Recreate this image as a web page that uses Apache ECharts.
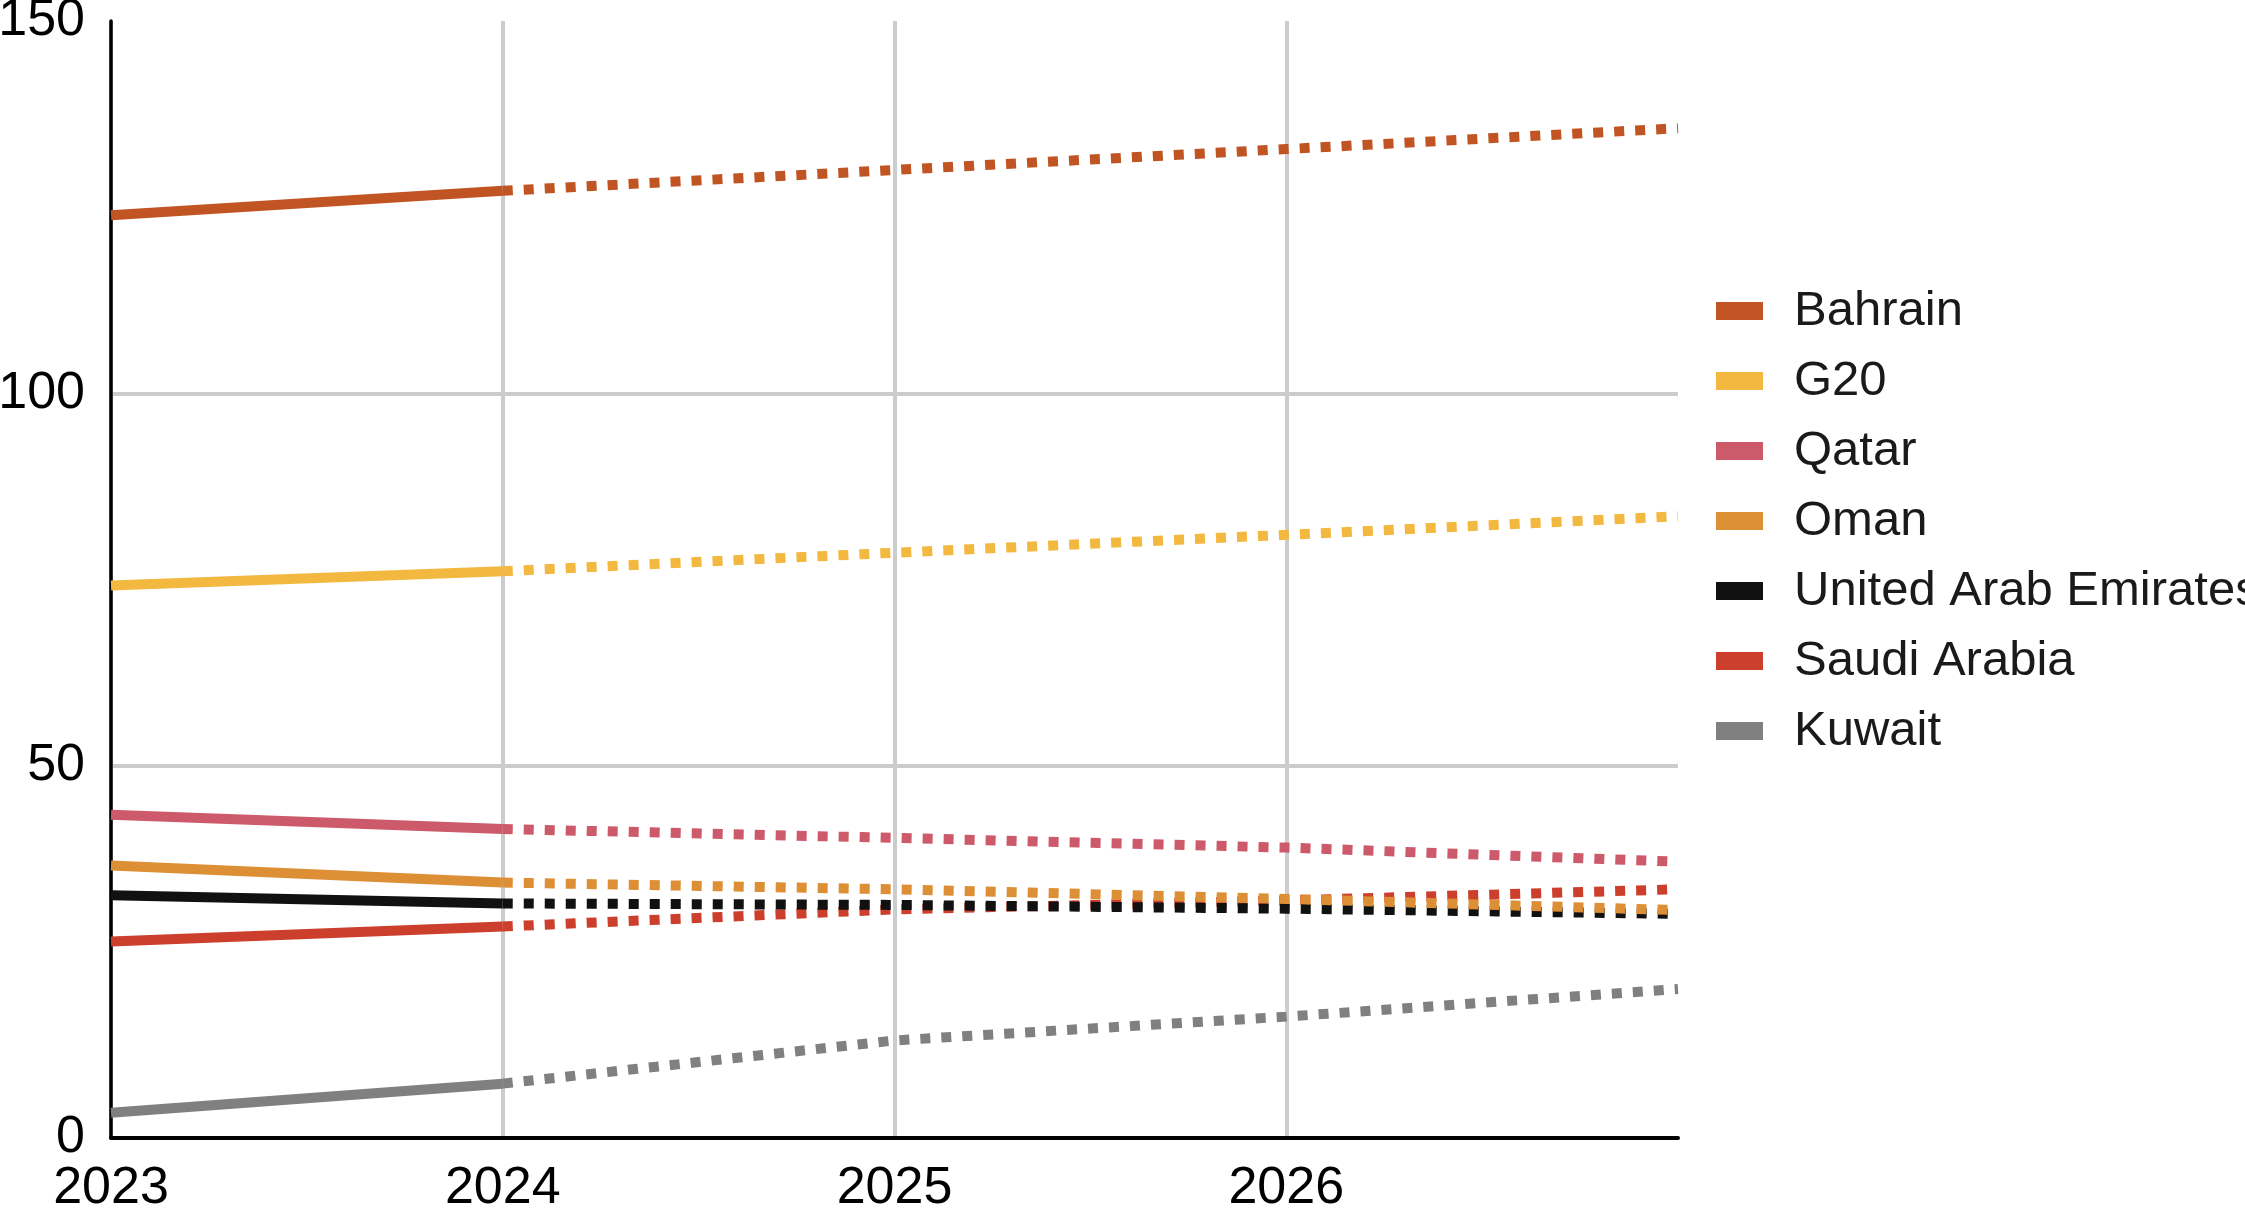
<!DOCTYPE html>
<html>
<head>
<meta charset="utf-8">
<script src="https://cdn.jsdelivr.net/npm/echarts@6/dist/echarts.min.js"></script>
<style>html,body{margin:0;padding:0;background:#fff;}#c{width:2245px;height:1209px;}</style>
</head>
<body>
<div id="c"></div>
<script>
const years = [2023, 2024, 2025, 2026, 2027];
const lastActualIndex = 1; // 2024 is the last actual year; later points are projections
const countries = ['Bahrain', 'G20', 'Qatar', 'Oman', 'United Arab Emirates', 'Saudi Arabia', 'Kuwait'];
const bahrain = [123.9, 127.2, 130.0, 132.8, 135.6];
const g20 = [74.2, 76.1, 78.6, 81.0, 83.5];
const qatar = [43.4, 41.5, 40.3, 39.0, 37.1];
const oman = [36.6, 34.3, 33.4, 32.1, 30.6];
const uae = [32.6, 31.5, 31.3, 30.8, 30.1];
const saudiArabia = [26.4, 28.4, 30.7, 31.9, 33.4];
const kuwait = [3.4, 7.3, 13.1, 16.3, 20.0];
const yTicks = [0, 50, 100, 150];

const valuesByCountry = [bahrain, g20, qatar, oman, uae, saudiArabia, kuwait];
const colors = ['#c05523', '#f3b840', '#cc5a6a', '#dd8f35', '#111111', '#cc3f2c', '#808080'];

const series = [];
for (let i = countries.length - 1; i >= 0; i--) {
  const vals = valuesByCountry[i];
  const actual = years.slice(0, lastActualIndex + 1).map((y, k) => [y, vals[k]]);
  const proj = years.slice(lastActualIndex).map((y, k) => [y, vals[k + lastActualIndex]]);
  series.push({
    name: countries[i], type: 'line', data: actual, showSymbol: false, symbol: 'none',
    lineStyle: { color: colors[i], width: 10, type: 'solid', cap: 'butt' },
    itemStyle: { color: colors[i] }, silent: true
  });
  series.push({
    name: countries[i], type: 'line', data: proj, showSymbol: false, symbol: 'none',
    lineStyle: { color: colors[i], width: 10, type: [10, 11], cap: 'butt' },
    itemStyle: { color: colors[i] }, silent: true
  });
}

const font = '"Liberation Sans", Arial, sans-serif';
const chart = echarts.init(document.getElementById('c'), null, { renderer: 'canvas' });
chart.setOption({
  animation: false,
  backgroundColor: '#ffffff',
  grid: { left: 111, right: 567, top: 21, bottom: 71, containLabel: false, outerBoundsMode: 'none' },
  legend: {
    data: countries,
    orient: 'vertical',
    left: 1711,
    top: 281,
    icon: 'rect',
    itemWidth: 47,
    itemHeight: 18,
    itemGap: 20,
    selectedMode: false,
    textStyle: { fontFamily: font, fontSize: 49, color: '#1a1a1a', lineHeight: 50, padding: [0, 0, 0, 26] }
  },
  xAxis: {
    type: 'value', min: years[0], max: years[years.length - 1], interval: 1,
    axisLine: { show: true, onZero: false, lineStyle: { color: '#000', width: 4 } },
    axisTick: { show: false },
    axisLabel: {
      show: true, margin: 25, fontFamily: font, fontSize: 52, color: '#000',
      showMaxLabel: false,
      formatter: v => String(v)
    },
    splitLine: { show: true, showMaxLine: false, lineStyle: { color: '#cccccc', width: 4 } }
  },
  yAxis: {
    type: 'value', min: yTicks[0], max: yTicks[yTicks.length - 1], interval: 50,
    axisLine: { show: true, lineStyle: { color: '#000', width: 3.5 } },
    axisTick: { show: false },
    axisLabel: { show: true, margin: 26, fontFamily: font, fontSize: 52, color: '#000' },
    splitLine: { show: true, showMaxLine: false, showMinLine: false, lineStyle: { color: '#cccccc', width: 4 } }
  },
  series: series
});
</script>
</body>
</html>
